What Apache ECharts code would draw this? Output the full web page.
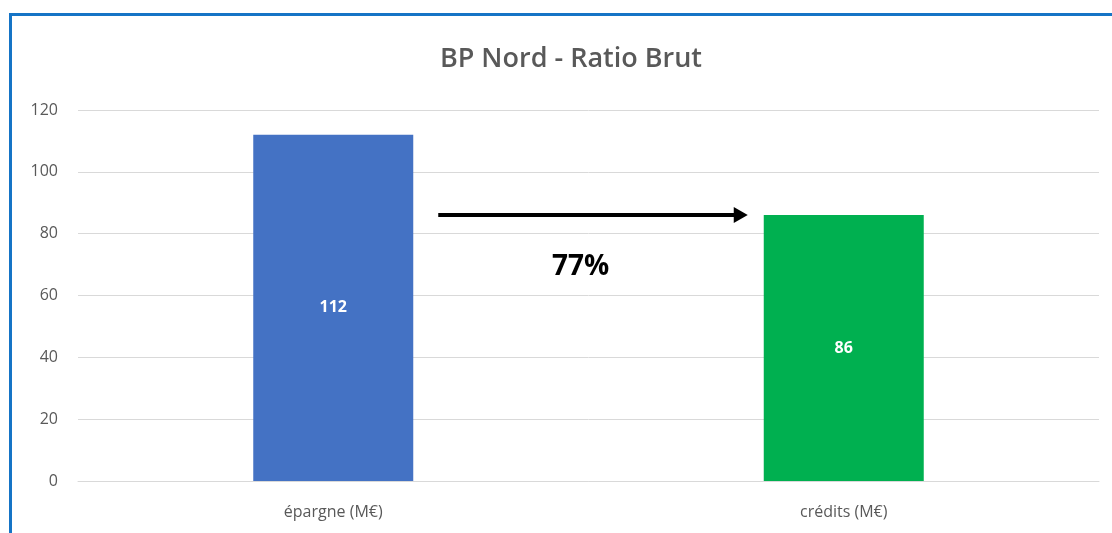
<!doctype html>
<html lang="fr">
<head>
    <meta charset="utf-8">
    <title>BP Nord - Ratio Brut</title>
    <script src="https://cdn.jsdelivr.net/npm/echarts@6/dist/echarts.min.js"></script>
    <style>
        html, body { margin: 0; padding: 0; background: #fff; }
        #main { width: 1112px; height: 533px; }
        #frame {
            position: absolute; left: 9px; top: 13px; width: 1200px; height: 600px;
            border-top: 3px solid #1574c6; border-left: 3px solid #1574c6;
            pointer-events: none;
        }
    </style>
</head>
<body>
    <div id="main"></div>
    <div id="frame"></div>
    <script>
        // données du graphique
        var categories = ['épargne (M€)', 'crédits (M€)'];
        var values = [112, 86];
        var barColors = ['#4472c4', '#00b050'];
        var ratioLabel = '77%';
        var yTicks = [0, 20, 40, 60, 80, 100, 120];

        var myChart = echarts.init(document.getElementById('main'));
        var font = '"Open Sans", "Noto Sans", sans-serif';

        var option = {
            animation: false,
            title: {
                text: 'BP Nord - Ratio Brut',
                left: 566, top: 41, textAlign: 'center',
                textStyle: { fontFamily: font, fontSize: 27, fontWeight: 600, color: '#595959' }
            },
            grid: { left: 78, right: 13, top: 110, bottom: 52, containLabel: false },
            xAxis: {
                type: 'category',
                data: categories,
                axisLine: { show: true, lineStyle: { color: '#d9d9d9', width: 1 } },
                axisTick: { show: false },
                axisLabel: { color: '#595959', fontFamily: font, fontSize: 16, margin: 23 }
            },
            yAxis: {
                type: 'value',
                min: yTicks[0], max: yTicks[yTicks.length - 1], interval: 20,
                axisLine: { show: false },
                axisTick: { show: false },
                axisLabel: { color: '#595959', fontFamily: font, fontSize: 16, margin: 20 },
                splitLine: { lineStyle: { color: '#d9d9d9', width: 1 } }
            },
            series: [{
                type: 'bar',
                barWidth: 160,
                data: values.map(function (v, i) {
                    return { value: v, itemStyle: { color: barColors[i] } };
                }),
                label: {
                    show: true, position: 'inside',
                    color: '#fff', fontFamily: font, fontSize: 16, fontWeight: 'bold'
                }
            }]
        };
        myChart.setOption(option);

        // flèche et ratio entre les deux barres
        function drawArrow() {
            var x0 = myChart.convertToPixel({ xAxisIndex: 0 }, categories[0]);
            var x1 = myChart.convertToPixel({ xAxisIndex: 0 }, categories[1]);
            var y = myChart.convertToPixel({ yAxisIndex: 0 }, values[1]);
            var xs = x0 + 80 + 25, xe = x1 - 80 - 16;
            myChart.setOption({
                graphic: [
                    { type: 'line', shape: { x1: xs, y1: y, x2: xe - 12, y2: y },
                      style: { stroke: '#000', lineWidth: 4 } },
                    { type: 'polygon', shape: { points: [[xe - 14, y - 8], [xe, y], [xe - 14, y + 8]] },
                      style: { fill: '#000' } },
                    { type: 'text', x: (x0 + x1) / 2 - 8, y: y + 52,
                      style: { text: ratioLabel, fontFamily: font, fontSize: 28, fontWeight: 'bold',
                               fill: '#000', align: 'center', verticalAlign: 'middle' } }
                ]
            });
        }
        drawArrow();
    </script>
</body>
</html>
